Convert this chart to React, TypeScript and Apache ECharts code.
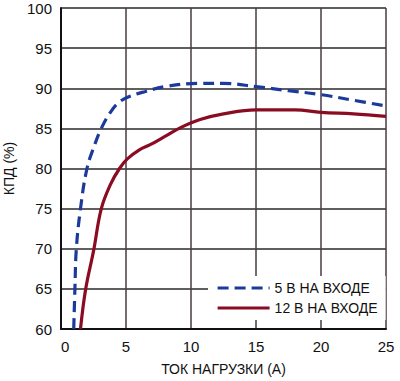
import React, { useEffect, useRef } from "react";
import * as echarts from "echarts";

const seriesNames = ["5 В НА ВХОДЕ", "12 В НА ВХОДЕ"];
const xTicks = [0, 5, 10, 15, 20, 25];
const yTicks = [60, 65, 70, 75, 80, 85, 90, 95, 100];

const in5V: [number, number][] = [
  [0.98, 60], [1.07, 65], [1.18, 70], [1.5, 75], [2.0, 80], [2.6, 83],
  [3.1, 85], [3.8, 87], [4.5, 88.3], [5.3, 89], [6.5, 89.6], [8, 90.2],
  [10.5, 90.6], [12.5, 90.6], [15, 90.2], [17.5, 89.7], [20, 89.2],
  [22.5, 88.5], [25, 87.8],
];
const in12V: [number, number][] = [
  [1.5, 60], [1.9, 65], [2.5, 69.7], [3.1, 75], [3.8, 78], [4.5, 80],
  [5.1, 81.2], [6, 82.3], [6.9, 83], [8.1, 84.1], [9.2, 85.1], [10.7, 86.1],
  [12.5, 86.8], [15, 87.3], [18, 87.3], [20, 87], [22.5, 86.8], [25, 86.5],
];

export default function App() {
  const ref = useRef<HTMLDivElement>(null);
  useEffect(() => {
    document.body.style.margin = "0";
    const chart = echarts.init(ref.current!, null, { renderer: "svg" });
    const font = "Liberation Sans, Arial, sans-serif";
    chart.setOption({
      animation: false,
      backgroundColor: "#ffffff",
      grid: { left: 61, top: 8, right: 14, bottom: 52, containLabel: false, outerBoundsMode: "none" },
      xAxis: {
        type: "value",
        min: xTicks[0],
        max: xTicks[xTicks.length - 1],
        interval: 5,
        name: "ТОК НАГРУЗКИ (А)",
        nameLocation: "middle",
        nameGap: 33,
        nameTextStyle: { color: "#111", fontSize: 14, fontFamily: font },
        axisLine: { show: true, lineStyle: { color: "#111", width: 2 } },
        axisTick: { show: false },
        axisLabel: {
          color: "#111", fontSize: 15, fontFamily: font, margin: 10,
          alignMinLabel: "left", alignMaxLabel: "center",
        },
        splitLine: { show: true, lineStyle: { color: "#4a3a44", width: 1.5 } },
      },
      yAxis: {
        type: "value",
        min: yTicks[0],
        max: yTicks[yTicks.length - 1],
        interval: 5,
        name: "КПД (%)",
        nameLocation: "middle",
        nameGap: 45,
        nameRotate: 90,
        nameTextStyle: { color: "#111", fontSize: 14, fontFamily: font },
        axisLine: { show: true, lineStyle: { color: "#111", width: 2 } },
        axisTick: { show: false },
        axisLabel: { color: "#111", fontSize: 15, fontFamily: font, margin: 9 },
        splitLine: { show: true, lineStyle: { color: "#2a2a2a", width: 1.5 } },
      },
      legend: {
        orient: "vertical",
        left: 208,
        top: 276,
        width: 177,
        backgroundColor: "#ffffff",
        padding: [5, 8, 5, 8],
        itemGap: 6,
        itemWidth: 52,
        itemHeight: 12,
        itemStyle: { color: "rgba(0,0,0,0)", borderWidth: 0, opacity: 0 },
        lineStyle: { width: 3.2 },
        textStyle: { color: "#111", fontSize: 14, fontFamily: font },
        data: seriesNames,
      },
      series: [
        {
          name: seriesNames[0],
          type: "line",
          data: in5V,
          smooth: 0.4,
          showSymbol: false,
          symbol: "none",
          lineStyle: { color: "#1c3a9c", width: 3.2, type: [11, 6] },
          itemStyle: { color: "#1c3a9c" },
        },
        {
          name: seriesNames[1],
          type: "line",
          data: in12V,
          smooth: 0.4,
          showSymbol: false,
          symbol: "none",
          lineStyle: { color: "#8a0c22", width: 3.2 },
          itemStyle: { color: "#8a0c22" },
        },
      ],
    });
    return () => chart.dispose();
  }, []);
  return <div ref={ref} style={{ width: 400, height: 381 }} />;
}
